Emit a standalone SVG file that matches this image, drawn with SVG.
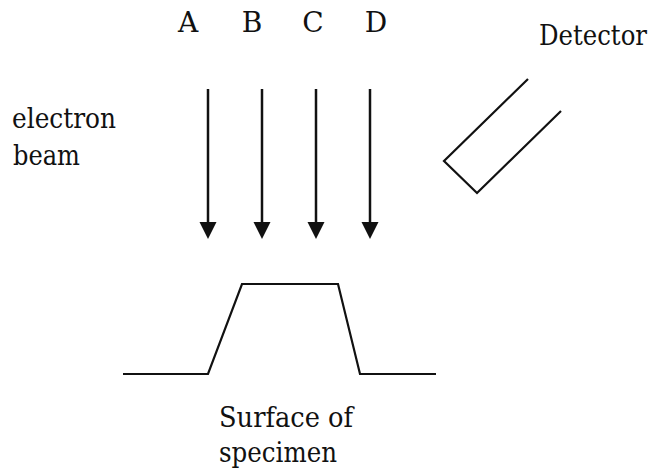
<svg xmlns="http://www.w3.org/2000/svg" width="655" height="475" viewBox="0 0 655 475">
  <style>
    .lbl { font-family: "DejaVu Serif", serif; font-size: 28px; fill: #111; }
    .ln { fill: none; stroke: #111; stroke-width: 2.2; stroke-linejoin: miter; }
    .beam { stroke: #111; stroke-width: 2.5; }
    .tip { fill: #111; }
  </style>
  <rect width="655" height="475" fill="#fff"/>

  <!-- beam position labels -->
  <g id="labels">
    <text class="lbl" x="188" y="32" text-anchor="middle">A</text>
    <text class="lbl" x="252" y="32" text-anchor="middle">B</text>
    <text class="lbl" x="313" y="32" text-anchor="middle">C</text>
    <text class="lbl" x="376" y="32" text-anchor="middle">D</text>
  </g>

  <g id="beam-label">
    <text class="lbl" x="12" y="128" textLength="104" lengthAdjust="spacingAndGlyphs">electron</text>
    <text class="lbl" x="13" y="165" textLength="67" lengthAdjust="spacingAndGlyphs">beam</text>
  </g>

  <!-- incident beams with arrowheads -->
  <g id="connectors">
    <line class="beam" x1="208" y1="89" x2="208" y2="226"/>
    <polygon class="tip" points="199.5,222 216.5,222 208,239"/>
    <line class="beam" x1="262" y1="89" x2="262" y2="226"/>
    <polygon class="tip" points="253.5,222 270.5,222 262,239"/>
    <line class="beam" x1="316" y1="89" x2="316" y2="226"/>
    <polygon class="tip" points="307.5,222 324.5,222 316,239"/>
    <line class="beam" x1="370" y1="89" x2="370" y2="226"/>
    <polygon class="tip" points="361.5,222 378.5,222 370,239"/>
  </g>

  <!-- detector -->
  <g id="detector">
    <text class="lbl" x="539" y="45" font-size="24" textLength="108" lengthAdjust="spacingAndGlyphs">Detector</text>
    <path class="ln" d="M528,79 L444,161 L477,193 L561,111"/>
  </g>

  <!-- specimen surface profile -->
  <g id="specimen">
    <path class="ln" d="M123,374 L208,374 L242,284 L338,284 L360,374 L436,374"/>
    <text class="lbl" x="219" y="427" textLength="134" lengthAdjust="spacingAndGlyphs">Surface of</text>
    <text class="lbl" x="219" y="462" textLength="118" lengthAdjust="spacingAndGlyphs">specimen</text>
  </g>
</svg>
